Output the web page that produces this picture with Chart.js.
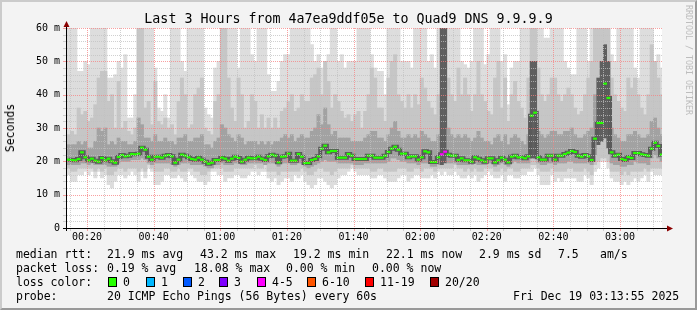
<!DOCTYPE html>
<html>
<head>
<meta charset="utf-8">
<title>Last 3 Hours from 4a7ea9ddf05e to Quad9 DNS 9.9.9.9</title>
<script src="https://cdn.jsdelivr.net/npm/chart.js"></script>
<style>
	html, body { margin: 0; padding: 0; background: #f3f3f3; }
	#frame { position: relative; width: 697px; height: 310px; background: #f3f3f3; overflow: hidden;
		font-family: 'DejaVu Sans Mono', monospace; color: #000; }
	#rttChart { position: absolute; left: 0; top: 0; }
	#bevel { position: absolute; left: 0; top: 0; width: 697px; height: 310px; box-sizing: border-box;
		border-top: 2px solid #cbcbcb; border-left: 2px solid #cbcbcb;
		border-right: 2px solid #999; border-bottom: 2px solid #999; pointer-events: none; }
	.txt { position: absolute; white-space: pre; font-size: 11.5px; line-height: 14px; }
	.box { position: absolute; width: 9px; height: 10px; box-sizing: border-box; border: 1px solid #000; }
	#title { position: absolute; left: 0; top: 11px; width: 697px; text-align: center; font-size: 13.3px; line-height: 16px; white-space: pre; }
	#ytitle { position: absolute; left: 10px; top: 128px; transform: translate(-50%, -50%) rotate(-90deg);
		font-family: 'DejaVu Sans Mono', monospace; font-size: 11.5px; color: #000; white-space: nowrap; }
	#credit { position: absolute; left: 684px; top: 5px; writing-mode: vertical-rl; font-size: 8.3px;
		line-height: 9px; color: #bdbdbd; white-space: nowrap; }
</style>
</head>
<body>
<div id="frame">
	<canvas id="rttChart" width="697" height="310"></canvas>
	<div id="title">Last 3 Hours from 4a7ea9ddf05e to Quad9 DNS 9.9.9.9</div>
	<div id="ytitle">Seconds</div>
	<div id="credit">RRDTOOL / TOBI OETIKER</div>
	<div id="legend"></div>
	<div id="bevel"></div>
</div>
<script>
// one sample per minute, first one at 00:14
var sampleStart = '00:14';

// median rtt (ms)
var medianRtt = [
	20.5,20.4,20.3,20.7,22.7,21.2,20.3,20.8,20.2,19.9,21.0,20.3,20.8,20.0,19.6,21.3,21.9,21.5,21.7,22.2,22.1,22.3,24.1,23.5,21.4,20.5,21.4,21.4,21.1,21.7,
	21.9,21.5,19.6,20.5,22.0,21.7,21.2,20.7,20.5,21.1,20.5,19.9,19.3,19.6,20.4,20.4,21.1,20.8,20.2,20.8,21.4,21.0,19.9,20.5,21.1,20.9,20.9,21.4,20.8,20.4,
	21.5,22.0,21.7,19.7,21.4,21.5,22.3,20.2,20.2,22.2,21.4,19.5,19.5,20.4,20.7,21.5,23.8,24.7,22.7,23.1,23.1,21.1,21.1,21.1,22.2,21.7,20.7,20.7,20.7,
	20.7,21.7,21.7,21.1,21.1,21.1,21.7,22.8,23.8,24.4,23.5,22.3,22.3,21.2,21.5,21.5,20.5,21.2,23.0,22.7,19.8,19.8,21.2,22.1,22.9,22.0,21.7,21.7,20.4,20.9,
	20.3,20.3,19.9,21.2,20.8,20.3,19.9,20.9,20.9,19.7,20.3,21.1,20.5,19.7,21.4,21.7,21.2,21.2,20.9,21.5,33.7,34.6,21.2,20.5,20.5,21.7,21.7,20.5,21.7,
	21.7,22.2,22.6,23.1,22.8,21.7,21.4,21.9,21.5,20.4,26.8,31.5,31.5,43.3,39.0,22.7,21.7,22.0,20.7,20.4,21.3,21.0,22.5,22.5,22.1,21.9,21.7,23.8,25.6,24.6,22.0
];

// lost pings out of 20
var lossCount = [
	0,0,0,0,0,0,0,0,0,0,0,0,0,0,0,0,0,0,0,0,0,0,0,0,0,0,0,0,0,0,
	0,0,0,0,0,0,0,0,0,0,0,0,0,0,0,0,0,0,0,0,0,0,0,0,0,0,0,0,0,0,
	0,0,0,0,0,0,0,0,0,0,0,0,0,0,0,0,0,0,0,0,0,0,0,0,0,0,0,0,0,
	0,0,0,0,0,0,0,0,0,0,0,0,0,0,0,0,0,0,0,0,0,0,0,4,4,0,0,0,0,0,
	0,0,0,0,0,0,0,0,0,0,0,0,0,0,0,0,0,0,0,0,0,0,0,0,0,0,0,0,0,
	0,0,0,0,0,0,0,0,0,0,0,0,0,0,0,0,0,0,0,0,0,0,0,0,0,0,0,0,0,0,0
];

// smoke: outer, middle and inner ping spread (ms)
var smokeMax = [
	60,60,60,47,47,50,49,60,60,60,60,60,45,45,46,50,48,52,33,33,40,60,60,60,60,60,48,36,35,40,
	33,60,60,60,50,47,60,60,60,60,60,36,34,33,48,50,60,60,60,60,60,48,60,60,60,52,50,60,60,60,
	46,41,41,44,50,52,52,60,60,60,60,60,60,55,50,52,48,50,52,60,60,50,52,48,50,50,50,60,60,60,
	60,52,48,47,47,40,60,60,60,60,50,50,50,48,60,60,60,60,50,52,48,60,60,60,60,60,60,60,50,49,
	48,50,60,60,60,49,52,60,60,60,50,52,37,48,50,50,60,60,60,60,60,60,60,57,57,60,60,60,60,50,
	48,46,46,60,60,60,50,60,60,60,60,60,60,52,50,60,60,60,60,60,48,45,60,60,60,60,50,52,48
];
var smokeHigh = [
	28,29,28,36,34,35,32,33,37,45,47,47,38,40,30,44,30,32,29,28,30,60,60,36,38,31,44,32,31,33,
	30,31,28,38,45,40,30,31,40,42,45,30,29,28,38,40,60,60,45,36,32,45,40,30,32,40,38,30,34,30,
	33,30,33,30,35,36,38,40,35,36,40,38,38,45,46,48,40,50,44,36,40,38,35,33,34,32,34,35,30,
	35,40,48,45,36,36,32,45,50,52,40,38,36,40,36,40,37,45,42,38,36,34,40,60,60,45,40,38,48,40,
	45,40,35,40,50,40,38,35,34,45,50,36,45,32,40,44,38,36,33,45,60,60,48,40,38,40,45,45,40,
	38,40,42,40,36,34,35,40,45,50,60,60,60,60,60,45,40,38,36,35,45,42,45,40,36,34,40,55,50,45,40
];
var smokeUpper = [
	25,25,25,26,25,26,24,24,26,30,29,30,25,26,25,27,26,26,25,25,26,33,31,27,27,26,28,26,26,27,
	26,26,25,27,27,28,26,26,27,27,28,25,25,24,26,27,31,30,28,27,26,28,27,25,26,26,26,25,26,25,
	26,25,26,26,27,28,27,28,26,27,28,27,27,29,30,34,31,36,31,28,29,27,27,27,27,26,26,26,26,
	27,28,29,29,27,27,26,28,30,32,29,27,27,28,27,28,27,29,28,27,26,26,28,60,60,30,28,27,28,27,
	28,27,26,27,29,27,26,26,25,27,28,26,28,25,27,28,27,26,25,28,50,50,29,28,27,28,29,29,28,
	28,29,29,30,28,27,27,28,29,30,40,45,50,55,50,30,28,27,26,26,28,28,29,28,27,27,28,32,33,30,28
];
var smokeLower = [
	19,19,19,19,19.5,19.5,19,19.5,19,19,19,19,18.5,18.5,18.5,19.5,20,20,20,20.5,20.5,20.5,21,20.5,19.5,19,19.5,19.5,19.5,19.5,
	19.5,19,18.5,19,19.5,19.5,19.5,19,19,19,19,18.5,18,18,19,19,19.5,19,19,19,19.5,19.5,19,19,19.5,19.5,19.5,19.5,19.5,19,
	19.5,19.5,19.5,18.5,19.5,19.5,19.5,19,19,19.5,19.5,18.5,18,18.5,19,19.5,20,20.5,20,20,20,19.5,19.5,19.5,19.5,19.5,19,19,19,
	19.5,19.5,19.5,19.5,19.5,19.5,19.5,20,21,21,20.5,20,20,19.5,19.5,19.5,19,19.5,19.5,19.5,18.5,18.5,19,19,19.5,19.5,19.5,19.5,19,19,
	19,19,19,19.5,19,19,19,19.5,19.5,18.5,19,19.5,19,18.5,19.5,20,19.5,19.5,19.5,19.5,21,21,19.5,19,19,19.5,19.5,19,19.5,
	19.5,19.5,20,20,19.5,19.5,19.5,19.5,19.5,19,22,25,26,27,24,19.5,19,19,18.5,18.5,19,19,20,19.5,19.5,19.5,19,21,22,21,20
];
var smokeLow = [
	18,17,17,18,18,18,18,18,17,18,17,18,16,16,17,18,18,17,18,18,18,17,18,17,19,18,17,17,17,18,
	18,17,17,18,17,17,18,18,17,17,16,16,17,18,18,18,18,17,17,17,18,18,18,18,18,18,19,18,18,19,
	17,17,17,16,17,17,17,17,17,17,18,17,16,16,17,18,18,17,17,16,17,18,18,18,18,19,18,18,18,
	18,18,17,17,18,18,17,17,17,17,18,18,18,17,17,18,18,17,18,18,18,17,18,18,18,18,18,19,18,18,
	17,18,17,18,17,17,18,18,18,17,17,18,17,18,18,17,17,18,18,18,19,19,18,17,17,17,18,17,17,
	17,17,18,18,17,17,17,18,17,16,19,20,21,21,20,17,17,17,16,17,16,17,17,17,17,18,17,18,18,18,18
];
var smokeMin = [
	16,14,14,16,16,17,16,17,15,17,15,16,13,12,14,16,16,15,16,17,16,14,17,15,18,17,13,13,14,16,
	16,15,15,16,15,14,17,16,15,14,14,13,14,17,17,16,16,14,15,15,16,16,15,15,16,17,17,16,17,17,
	15,14,15,13,14,15,15,14,16,15,16,14,13,12,13,15,15,14,13,12,13,15,16,16,17,18,17,16,16,
	16,16,15,15,16,16,15,14,14,14,15,16,16,14,15,16,16,15,15,15,16,15,17,16,17,16,16,17,16,15,
	15,16,15,16,14,15,16,17,16,15,15,16,14,16,16,15,15,16,16,17,17,18,16,13,13,13,16,14,15,
	14,15,15,15,15,14,14,16,15,13,17,18,20,20,18,15,14,14,13,14,13,14,15,14,15,16,14,17,16,16,16
];

var yTicks = [0, 10, 20, 30, 40, 50, 60];
var xTicks = ['00:20', '00:40', '01:00', '01:20', '01:40', '02:00', '02:20', '02:40', '03:00'];
var viewStart = '00:14';
var viewMinutes = 178.6;

var lossNames = ['0', '1', '2', '3', '4-5', '6-10', '11-19', '20/20'];
var lossColors = ['#26ff00', '#00b8ff', '#0059ff', '#7e00ff', '#ff00ff', '#ff5500', '#ff0000', '#a10000'];

function toMinutes(hhmm) {
	var p = hhmm.split(':');
	return Number(p[0]) * 60 + Number(p[1]);
}
function toClock(m) {
	var h = Math.floor(m / 60);
	var mm = Math.round(m - h * 60);
	return (h < 10 ? '0' : '') + h + ':' + (mm < 10 ? '0' : '') + mm;
}
function lossColor(n) {
	if (n <= 0) return lossColors[0];
	if (n <= 3) return lossColors[n];
	if (n <= 5) return lossColors[4];
	if (n <= 10) return lossColors[5];
	if (n <= 19) return lossColors[6];
	return lossColors[7];
}

var t0 = toMinutes(sampleStart);
var sampleX = medianRtt.map(function(v, i) { return t0 + i + 0.5; });

function points(values) {
	return sampleX.map(function(x, i) { return { x: x, y: values[i] }; });
}
function band(lo, hi) {
	return sampleX.map(function(x, i) { return { x: x, y: [lo[i], hi[i]] }; });
}

var GRID = 'rgba(192,192,192,0.75)';
var MGRID = 'rgba(245,128,128,0.75)';
var ARROW = '#8b0000';

var rrdFrame = {
	id: 'rrdFrame',
	beforeDraw: function(chart) {
		var a = chart.chartArea;
		chart.ctx.save();
		chart.ctx.fillStyle = '#ffffff';
		chart.ctx.fillRect(a.left, a.top, a.right - a.left, a.bottom - a.top);
		chart.ctx.restore();
	},
	afterDatasetsDraw: function(chart) {
		var c = chart.ctx, a = chart.chartArea, xs = chart.scales.x, ys = chart.scales.y;
		var m, v, px, py;
		c.save();
		c.lineWidth = 1;

		// dotted grid, minor first
		c.setLineDash([1, 1]);
		[false, true].forEach(function(major) {
			c.strokeStyle = major ? MGRID : GRID;
			for (m = Math.ceil(xs.min / 5) * 5; m <= xs.max; m += 5) {
				if ((m % 20 === 0) !== major) continue;
				px = Math.round(xs.getPixelForValue(m)) + 0.5;
				c.beginPath(); c.moveTo(px, a.top); c.lineTo(px, a.bottom); c.stroke();
			}
			for (v = 2; v <= ys.max; v += 2) {
				if ((v % 10 === 0) !== major) continue;
				py = Math.round(ys.getPixelForValue(v)) + 0.5;
				c.beginPath(); c.moveTo(a.left, py); c.lineTo(a.right, py); c.stroke();
			}
		});

		// small tick marks outside the axes
		c.setLineDash([]);
		for (m = Math.ceil(xs.min / 5) * 5; m <= xs.max; m += 5) {
			c.strokeStyle = m % 20 === 0 ? MGRID : GRID;
			px = Math.round(xs.getPixelForValue(m)) + 0.5;
			c.beginPath(); c.moveTo(px, a.bottom + 1); c.lineTo(px, a.bottom + 3); c.stroke();
		}
		for (v = 2; v <= ys.max; v += 2) {
			c.strokeStyle = v % 10 === 0 ? MGRID : GRID;
			py = Math.round(ys.getPixelForValue(v)) + 0.5;
			c.beginPath(); c.moveTo(a.left - 4, py); c.lineTo(a.left - 1, py); c.stroke();
		}

		// axes
		c.strokeStyle = '#000';
		c.beginPath();
		c.moveTo(a.left - 0.5, a.bottom + 3); c.lineTo(a.left - 0.5, a.top - 5);
		c.moveTo(a.left - 4, a.bottom + 0.5); c.lineTo(a.right + 6, a.bottom + 0.5);
		c.stroke();

		// arrows
		c.fillStyle = ARROW;
		c.beginPath();
		c.moveTo(a.left - 0.5, a.top - 7); c.lineTo(a.left - 3.5, a.top - 1); c.lineTo(a.left + 2.5, a.top - 1);
		c.closePath(); c.fill();
		c.beginPath();
		c.moveTo(a.right + 11, a.bottom + 0.5); c.lineTo(a.right + 5, a.bottom - 2.5); c.lineTo(a.right + 5, a.bottom + 3.5);
		c.closePath(); c.fill();
		c.restore();
	}
};

var barOpts = { type: 'bar', grouped: false, barPercentage: 1, categoryPercentage: 1, borderWidth: 0 };

// dense smoke (inner pings spread far up) is drawn darker
function innerShade(ctx) {
	return smokeUpper[ctx.dataIndex] >= 45 ? '#5f5f5f' : '#a2a2a2';
}

var _datasets = [
	{ type: 'line', data: points(medianRtt), showLine: false, pointStyle: 'line', pointRadius: 1.9,
		pointBorderWidth: 2.2, order: 1,
		pointBorderColor: function(ctx) { return lossColor(lossCount[ctx.dataIndex]); },
		pointBackgroundColor: function(ctx) { return lossColor(lossCount[ctx.dataIndex]); } },
	{ type: 'line', data: points(medianRtt), stepped: 'middle', borderColor: '#5a5a5a', borderWidth: 4, pointRadius: 0, order: 3 },
	Object.assign({ data: band(smokeLower, smokeUpper), backgroundColor: innerShade, order: 4 }, barOpts),
	Object.assign({ data: band(smokeLow, smokeHigh), backgroundColor: '#c6c6c6', order: 5 }, barOpts),
	Object.assign({ data: band(smokeMin, smokeMax), backgroundColor: '#dddddd', order: 6 }, barOpts)
];

var tickFont = { family: 'DejaVu Sans Mono', size: 10 };

var myChart = new Chart(document.getElementById('rttChart'), {
	type: 'bar',
	data: { datasets: _datasets },
	plugins: [rrdFrame],
	options: {
		responsive: false,
		animation: false,
		events: [],
		layout: { padding: { top: 28, right: 35, bottom: 62, left: 0 } },
		plugins: { legend: { display: false }, tooltip: { enabled: false }, title: { display: false } },
		scales: {
			x: {
				type: 'linear',
				min: toMinutes(viewStart),
				max: toMinutes(viewStart) + viewMinutes,
				offset: false,
				grid: { display: false, drawTicks: false },
				border: { display: false },
				afterBuildTicks: function(scale) {
					scale.ticks = xTicks.map(function(t) { return { value: toMinutes(t) }; });
				},
				afterFit: function(scale) { scale.height = 20; },
				ticks: {
					autoSkip: false, maxRotation: 0, padding: 3, color: '#000', font: tickFont,
					callback: function(value) { return toClock(value); }
				}
			},
			y: {
				min: 0,
				max: 60,
				grid: { display: false, drawTicks: false },
				border: { display: false },
				afterBuildTicks: function(scale) {
					scale.ticks = yTicks.map(function(v) { return { value: v }; });
				},
				afterFit: function(scale) { scale.width = 67; },
				ticks: {
					padding: 7, color: '#000', font: tickFont,
					callback: function(value) { return value === 0 ? '0' : value + ' m'; }
				}
			}
		}
	}
});

// legend lines under the graph
var legendRows = [
	[[16, 'median rtt:'], [107, '21.9 ms avg'], [200, '43.2 ms max'], [293, '19.2 ms min'], [386, '22.1 ms now'], [479, '2.9 ms sd'], [558, '7.5'], [600, 'am/s']],
	[[16, 'packet loss:'], [107, '0.19 % avg'], [194, '18.08 % max'], [286, '0.00 % min'], [372, '0.00 % now']],
	[[16, 'loss color:']],
	[[16, 'probe:'], [107, '20 ICMP Echo Pings (56 Bytes) every 60s'], [513, 'Fri Dec 19 03:13:55 2025']]
];
var legendTop = [247, 261, 275, 289];
var lossBoxX = [108, 146, 183, 219, 257, 307, 365, 430];

var html = '';
legendRows.forEach(function(row, r) {
	row.forEach(function(cell) {
		html += '<div class="txt" style="left:' + cell[0] + 'px;top:' + legendTop[r] + 'px">' + cell[1] + '</div>';
	});
});
lossNames.forEach(function(name, i) {
	html += '<div class="box" style="left:' + lossBoxX[i] + 'px;top:277px;background:' + lossColors[i] + '"></div>';
	html += '<div class="txt" style="left:' + (lossBoxX[i] + 15) + 'px;top:' + legendTop[2] + 'px">' + name + '</div>';
});
document.getElementById('legend').innerHTML = html;
</script>
</body>
</html>
